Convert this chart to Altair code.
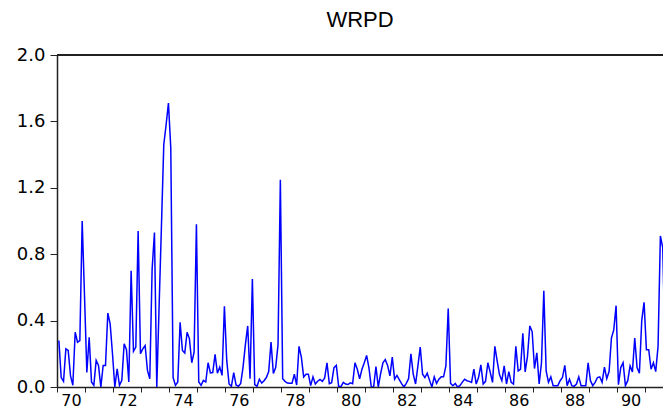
import altair as alt
import pandas as pd

# Monthly WRPD values, 1970M1 onward
wrpd = [
    0.28, 0.057, 0.034, 0.23, 0.22, 0.067, 0.01, 0.33, 0.27, 0.28, 1.0, 0.55,
    0.087, 0.30, 0.03, 0.01, 0.16, 0.13, 0.0, 0.13, 0.13, 0.445, 0.38, 0.2,
    0.0, 0.11, 0.01, 0.04, 0.26, 0.225, 0.03, 0.70, 0.215, 0.24, 0.94, 0.2,
    0.23, 0.25, 0.1, 0.05, 0.71, 0.93, 0.0, 0.49, 0.97, 1.46, 1.58, 1.71,
    1.44, 0.057, 0.01, 0.03, 0.39, 0.22, 0.205, 0.33, 0.29, 0.146, 0.21, 0.98,
    0.03, 0.01, 0.04, 0.03, 0.146, 0.085, 0.087, 0.196, 0.083, 0.12, 0.07, 0.487,
    0.16, 0.018, 0.004, 0.087, 0.012, 0.004, 0.022, 0.12, 0.255, 0.368, 0.05, 0.65,
    0.014, 0.004, 0.047, 0.024, 0.038, 0.057, 0.093, 0.27, 0.081, 0.117, 0.255, 1.248,
    0.05, 0.034, 0.024, 0.022, 0.022, 0.077, 0.012, 0.245, 0.18, 0.061, 0.077, 0.077,
    0.008, 0.061, 0.018, 0.035, 0.045, 0.034, 0.055, 0.146, 0.02, 0.026, 0.117, 0.13,
    0.004, 0.002, 0.028, 0.018, 0.015, 0.025, 0.02, 0.146, 0.107, 0.05, 0.107, 0.146,
    0.19, 0.115, 0.0, 0.0, 0.123, 0.0, 0.08, 0.146, 0.165, 0.13, 0.067, 0.18,
    0.047, 0.07, 0.045, 0.02, 0.0, 0.022, 0.05, 0.2, 0.077, 0.018, 0.127, 0.24,
    0.077, 0.057, 0.083, 0.04, 0.0, 0.061, 0.022, 0.047, 0.061, 0.061, 0.127, 0.473,
    0.022, 0.008, 0.022, 0.0, 0.008, 0.028, 0.047, 0.038, 0.034, 0.028, 0.107, 0.018,
    0.057, 0.133, 0.018, 0.034, 0.146, 0.09, 0.028, 0.245, 0.156, 0.073, 0.038, 0.127,
    0.018, 0.093, 0.028, 0.018, 0.245, 0.097, 0.107, 0.324, 0.091, 0.186, 0.368, 0.334,
    0.111, 0.206, 0.018, 0.146, 0.58, 0.097, 0.028, 0.061, 0.008, 0.008, 0.008, 0.038,
    0.057, 0.13, 0.008, 0.047, 0.008, 0.004, 0.018, 0.061, 0.008, 0.008, 0.008, 0.146,
    0.038, 0.008, 0.028, 0.057, 0.061, 0.028, 0.12, 0.051, 0.093, 0.295, 0.344, 0.49,
    0.014, 0.117, 0.146, 0.008, 0.038, 0.127, 0.091, 0.295, 0.117, 0.083, 0.4, 0.51,
    0.225, 0.225, 0.107, 0.146, 0.093, 0.245, 0.91, 0.84, 0.255,
]

start_year = 1970
year_ticks = list(range(1970, 1992))
y_ticks = [0.0, 0.4, 0.8, 1.2, 1.6, 2.0]
y_top = 2.0

df = pd.DataFrame({
    "t": [start_year + (i + 0.8) / 12 for i in range(len(wrpd))],
    "WRPD": wrpd,
})

NUM_FONT = "DejaVu Sans"
TITLE_FONT = "Liberation Sans"
AXIS_COLOR = "#222222"

base = alt.Chart(df)

line = base.mark_line(color="#0000FF", strokeWidth=1.5, clip=True).encode(
    x=alt.X(
        "t:Q",
        scale=alt.Scale(domain=[1970, 1991.66], nice=False, zero=False),
        axis=alt.Axis(
            title=None,
            values=year_ticks,
            labelExpr="datum.value % 2 == 0 ? substring(toString(datum.value), 2, 4) : ''",
            labelOffset=14,
            labelOverlap=False,
            labelFlush=False,
            labelFont=NUM_FONT,
            labelFontSize=16,
            labelColor="#000000",
            labelPadding=0,
            tickSize=5,
            tickColor=AXIS_COLOR,
            domainColor=AXIS_COLOR,
            domainWidth=1.5,
            grid=False,
        ),
    ),
    y=alt.Y(
        "WRPD:Q",
        scale=alt.Scale(domain=[0, y_top], nice=False),
        axis=alt.Axis(
            title=None,
            values=y_ticks,
            format=".1f",
            labelFont=NUM_FONT,
            labelFontSize=18,
            labelColor="#000000",
            labelPadding=5,
            tickSize=7,
            tickColor=AXIS_COLOR,
            domainColor=AXIS_COLOR,
            domainWidth=1.5,
            grid=False,
        ),
    ),
)

top_border = base.mark_rule(color=AXIS_COLOR, strokeWidth=1.5).encode(
    y=alt.datum(y_top)
)

chart = (
    alt.layer(line, top_border)
    .properties(
        width=606,
        height=332,
        title=alt.TitleParams(
            "WRPD", anchor="middle", frame="group", font=TITLE_FONT, fontSize=22,
            fontWeight="normal", color="#000000", offset=14,
        ),
        autosize=alt.AutoSizeParams(type="none"),
        padding={"left": 49, "top": 47, "right": 0, "bottom": 21},
    )
    .configure_view(stroke=None)
)

chart.save("out.html", embed_options={"renderer": "svg", "actions": False})
